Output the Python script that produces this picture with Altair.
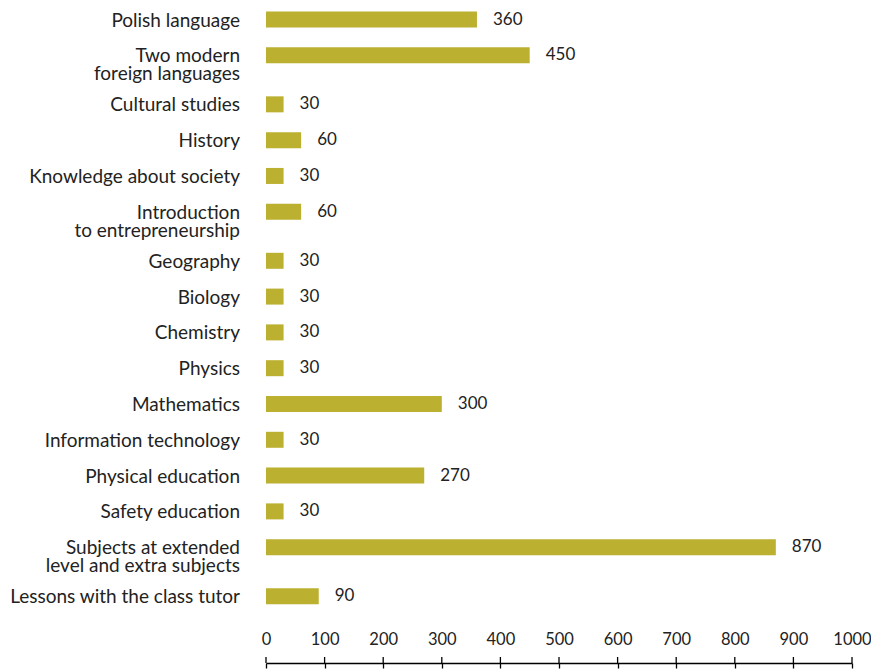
import altair as alt
import pandas as pd

subjects = [
    "Polish language",
    "Two  modern\nforeign languages",
    "Cultural studies",
    "History",
    "Knowledge about society",
    "Introduction\nto entrepreneurship",
    "Geography",
    "Biology",
    "Chemistry",
    "Physics",
    "Mathematics",
    "Information technology",
    "Physical education",
    "Safety education",
    "Subjects at extended\nlevel and extra subjects",
    "Lessons with the class tutor",
]
hours = [360, 450, 30, 60, 30, 60, 30, 30, 30, 30, 300, 30, 270, 30, 870, 90]
x_ticks = [0, 100, 200, 300, 400, 500, 600, 700, 800, 900, 1000]

df = pd.DataFrame({"subject": subjects, "hours": hours})
ticks_df = pd.DataFrame({"t": x_ticks})

W, H = 586, 615
STEP = 35.8        # px per row
EXTRA = 0.37       # extra row fraction added after a two-line label
FIRST = 19.5       # px centre of first row
FONT = "Lato"
BAR = "#BBB030"
TXT = "#222222"

x_axis = alt.Axis(
    title=None, orient="bottom", offset=48, values=x_ticks, grid=False, format="d",
    domain=True, domainColor="#000000", domainWidth=1.3,
    ticks=True, tickSize=5, tickColor="#000000", tickWidth=1.3,
    labelFont=FONT, labelFontSize=16.5, labelColor=TXT,
    labelPadding=-37, labelFlush=False, labelOverlap=False,
)
x_scale = alt.Scale(domain=[0, 1000], nice=False, zero=True)
y_scale = alt.Scale(domain=[-FIRST / STEP, (H - FIRST) / STEP], reverse=True, nice=False, zero=False)

base = alt.Chart(df).transform_window(
    idx="row_number()"
).transform_calculate(
    extra="length(split(datum.subject, '\\n')) - 1",
    zero="0",
).transform_window(
    cum="sum(extra)", frame=[None, -1]
).transform_calculate(
    slot=f"datum.idx - 1 + {EXTRA} * (isValid(datum.cum) ? datum.cum : 0)"
)

y_enc = alt.Y("slot:Q", scale=y_scale, axis=None)

bars = base.mark_rule(strokeWidth=16, strokeCap="butt", color=BAR).encode(
    x=alt.X("zero:Q", scale=x_scale, axis=x_axis), x2="hours:Q", y=y_enc
)
values = base.mark_text(
    align="left", baseline="middle", dx=16, font=FONT, fontSize=17, color=TXT
).encode(x=alt.X("hours:Q", scale=x_scale, axis=x_axis), y=y_enc, text="hours:Q")
cats = base.mark_text(
    align="right", baseline="top", dy=-8, lineBreak="\n", lineHeight=18,
    font=FONT, fontSize=19, color=TXT
).encode(x=alt.value(-26), y=y_enc, text="subject:N")
upticks = alt.Chart(ticks_df).mark_rule(color="#000000", strokeWidth=1.3).encode(
    x=alt.X("t:Q", scale=x_scale, axis=x_axis),
    y=alt.value(H + 42), y2=alt.value(H + 48),
)

chart = alt.layer(bars, values, cats, upticks).properties(
    width=W, height=H,
    autosize=alt.AutoSizeParams(type="none"),
    padding={"left": 266, "top": 0, "right": 19, "bottom": 54},
).configure_view(stroke=None)

chart.save("out.html", embed_options={"renderer": "svg", "actions": False})
